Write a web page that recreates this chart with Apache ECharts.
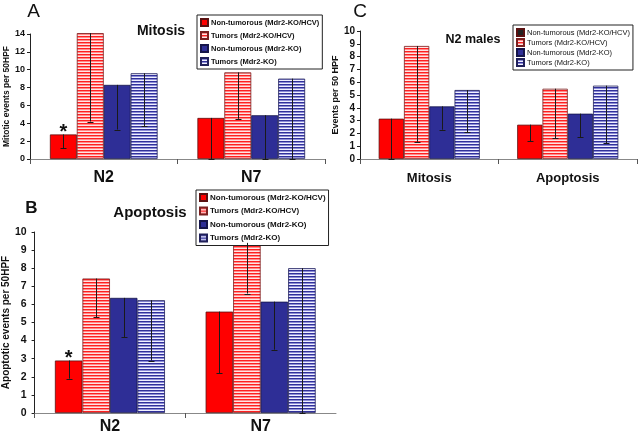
<!DOCTYPE html>
<html>
<head>
<meta charset="utf-8">
<script src="https://cdn.jsdelivr.net/npm/echarts@6/dist/echarts.min.js"></script>
<style>html,body{margin:0;padding:0;background:#fff}#c{width:640px;height:440px}</style>
</head>
<body>
<div id="c"></div>
<script>
// ---------- data ----------
const categoriesAB = ['N2', 'N7'];
const categoriesC = ['Mitosis', 'Apoptosis'];
const groupNames = ['Non-tumorous (Mdr2-KO/HCV)', 'Tumors (Mdr2-KO/HCV)', 'Non-tumorous (Mdr2-KO)', 'Tumors (Mdr2-KO)'];

// Panel A: Mitosis (mean, lower end of error bar)
const mitosisNtHcv = [2.75, 4.6];
const mitosisTHcv = [14.1, 9.7];
const mitosisNtKo = [8.3, 4.9];
const mitosisTKo = [9.6, 9.0];
const mitosisNtHcvLow = [1.2, 0];
const mitosisTHcvLow = [4.2, 4.5];
const mitosisNtKoLow = [3.3, 0];
const mitosisTKoLow = [3.7, 0];

// Panel B: Apoptosis
const apoptosisNtHcv = [2.9, 5.6];
const apoptosisTHcv = [7.43, 9.4];
const apoptosisNtKo = [6.36, 6.15];
const apoptosisTKo = [6.23, 8.0];
const apoptosisNtHcvLow = [1.9, 2.2];
const apoptosisTHcvLow = [5.3, 6.6];
const apoptosisNtKoLow = [4.2, 3.5];
const apoptosisTKoLow = [2.9, 0];

// Panel C: N2 males
const malesNtHcv = [3.15, 2.68];
const malesTHcv = [8.83, 5.49];
const malesNtKo = [4.11, 3.54];
const malesTKo = [5.39, 5.73];
const malesNtHcvLow = [0, 1.38];
const malesTHcvLow = [1.35, 1.64];
const malesNtKoLow = [2.29, 1.69];
const malesTKoLow = [2.1, 1.25];

const significanceA = ['*', ''];
const significanceB = ['*', ''];

const ticksA = { min: 0, max: 14, interval: 2 };
const ticksB = { min: 0, max: 10, interval: 1 };
const ticksC = { min: 0, max: 10, interval: 1 };

// ---------- styling ----------
const FONT = 'Liberation Sans, Arial, sans-serif';
const GAP = 0.27;

function stripes(rows) {
  const c = document.createElement('canvas');
  c.width = 4; c.height = rows.length;
  const ctx = c.getContext('2d');
  rows.forEach((col, i) => { ctx.fillStyle = col; ctx.fillRect(0, i, 4, 1); });
  return { image: c, repeat: 'repeat' };
}
const pinkStripe = stripes(['#ff2020', '#ff8a8a', '#ffe4e4']);
const lavStripe = stripes(['#30309a', '#8c8cd6', '#f0f0ff']);

const styles = [
  { color: '#ff0000', borderColor: '#5a1010', borderWidth: 0.8 },
  { color: pinkStripe, borderColor: '#7a2020', borderWidth: 0.8 },
  { color: '#2e2e96', borderColor: '#15154a', borderWidth: 0.8 },
  { color: lavStripe, borderColor: '#20205a', borderWidth: 0.8 }
];

function barSeries(axis, means, labels) {
  return means.map((vals, k) => ({
    type: 'bar',
    name: groupNames[k],
    xAxisIndex: axis, yAxisIndex: axis,
    barGap: '0%', barCategoryGap: (GAP * 100) + '%',
    clip: false,
    itemStyle: styles[k],
    data: vals.map((v, i) => {
      if (k === 0 && labels && labels[i]) {
        return { value: v, label: { show: true, position: 'top', formatter: labels[i], fontSize: 20, fontWeight: 'bold', color: '#111', fontFamily: FONT, distance: 0, offset: [0, 8] } };
      }
      return v;
    }),
    z: 2
  }));
}

function errRender(params, api) {
  const cat = api.value(0), k = api.value(1), lo = api.value(2), hi = api.value(3);
  const band = api.size([1, 0])[0];
  const bw = band * (1 - GAP) / 4;
  const cx = api.coord([cat, 0])[0] - 2 * bw + (k + 0.5) * bw;
  const yHi = api.coord([cat, hi])[1];
  const yLo = api.coord([cat, lo])[1];
  const x = Math.round(cx) + 0.5;
  const st = { stroke: '#1a1a1a', lineWidth: 1 };
  return {
    type: 'group', children: [
      { type: 'line', shape: { x1: x, y1: yHi, x2: x, y2: yLo }, style: st },
      { type: 'line', shape: { x1: x - 3, y1: Math.round(yLo) + 0.5, x2: x + 3, y2: Math.round(yLo) + 0.5 }, style: st }
    ]
  };
}

function errSeries(axis, means, lows) {
  const data = [];
  means.forEach((vals, k) => vals.forEach((v, i) => data.push([i, k, lows[k][i], v])));
  return { type: 'custom', xAxisIndex: axis, yAxisIndex: axis, renderItem: errRender, encode: { x: 0, y: 3 }, data, z: 5, silent: true };
}

const meansA = [mitosisNtHcv, mitosisTHcv, mitosisNtKo, mitosisTKo];
const lowsA = [mitosisNtHcvLow, mitosisTHcvLow, mitosisNtKoLow, mitosisTKoLow];
const meansB = [apoptosisNtHcv, apoptosisTHcv, apoptosisNtKo, apoptosisTKo];
const lowsB = [apoptosisNtHcvLow, apoptosisTHcvLow, apoptosisNtKoLow, apoptosisTKoLow];
const meansC = [malesNtHcv, malesTHcv, malesNtKo, malesTKo];
const lowsC = [malesNtHcvLow, malesTHcvLow, malesNtKoLow, malesTKoLow];

function xAx(idx, cats, margin, fs) {
  return {
    type: 'category', gridIndex: idx, data: cats,
    axisLine: { lineStyle: { color: '#888', width: 1 } },
    axisTick: { show: true, length: 5, lineStyle: { color: '#555' } },
    axisLabel: { margin, fontSize: fs, fontWeight: 'bold', color: '#111', fontFamily: FONT }
  };
}
function yAx(idx, t, name, nameGap, nameFs, labFs, labMargin) {
  return {
    type: 'value', gridIndex: idx, min: t.min, max: t.max, interval: t.interval,
    name, nameLocation: 'middle', nameGap,
    nameTextStyle: { fontSize: nameFs, fontWeight: 'bold', color: '#111', fontFamily: FONT },
    axisLine: { show: true, lineStyle: { color: '#222', width: 1 } },
    axisTick: { show: true, length: 3, lineStyle: { color: '#222' } },
    axisLabel: { margin: labMargin, fontSize: labFs, fontWeight: 'bold', color: '#111', fontFamily: FONT },
    splitLine: { show: false }
  };
}
function legend(left, top, bold, gap, fs, firstColor) {
  return {
    left, top, orient: 'vertical',
    icon: 'rect',
    itemWidth: 7, itemHeight: 7, itemGap: gap,
    padding: [3, 3, 3, 3],
    borderColor: '#222', borderWidth: 1, backgroundColor: '#fff',
    textStyle: { fontSize: fs, fontWeight: bold ? 'bold' : 'normal', color: '#111', fontFamily: FONT, padding: [0, 0, 0, -2] },
    data: groupNames.map((n, k) => (k === 0 && firstColor) ? { name: n, itemStyle: { color: firstColor } } : n),
    selectedMode: false
  };
}

const chart = echarts.init(document.getElementById('c'), null, { renderer: 'canvas' });
chart.setOption({
  backgroundColor: '#fff',
  animation: false,
  grid: [
    { left: 30, top: 34, width: 295, height: 125 },
    { left: 30, top: 232, width: 306, height: 181 },
    { left: 360, top: 31, width: 277, height: 128 }
  ],
  xAxis: [xAx(0, categoriesAB, 11, 16), xAx(1, categoriesAB, 6, 16), xAx(2, categoriesC, 13, 13)],
  yAxis: [
    yAx(0, ticksA, 'Mitotic events per 50HPF', 17, 8.5, 9, 5),
    yAx(1, ticksB, 'Apoptotic events per 50HPF', 16, 10, 10.5, 8),
    yAx(2, ticksC, 'Events per 50 HPF', 18, 9, 10, 5)
  ],
  legend: [
    legend(197, 15, true, 4, 7.5),
    legend(196, 190, true, 4.5, 8),
    legend(513, 25, false, 1, 7.5, '#222')
  ],
  graphic: [
    { type: 'text', x: 33.5, y: 11.5, style: { text: 'A', font: 'normal 19px ' + FONT, fill: '#111', textAlign: 'center', textVerticalAlign: 'middle' } },
    { type: 'text', x: 31.5, y: 208.5, style: { text: 'B', font: 'bold 17px ' + FONT, fill: '#111', textAlign: 'center', textVerticalAlign: 'middle' } },
    { type: 'text', x: 360, y: 11.5, style: { text: 'C', font: 'normal 19px ' + FONT, fill: '#111', textAlign: 'center', textVerticalAlign: 'middle' } },
    { type: 'text', x: 161, y: 31, style: { text: 'Mitosis', font: 'bold 14px ' + FONT, fill: '#111', textAlign: 'center', textVerticalAlign: 'middle' } },
    { type: 'text', x: 150, y: 213, style: { text: 'Apoptosis', font: 'bold 15px ' + FONT, fill: '#111', textAlign: 'center', textVerticalAlign: 'middle' } },
    { type: 'text', x: 473, y: 40, style: { text: 'N2 males', font: 'bold 12.5px ' + FONT, fill: '#111', textAlign: 'center', textVerticalAlign: 'middle' } }
  ],
  series: [
    ...barSeries(0, meansA, significanceA),
    ...barSeries(1, meansB, significanceB),
    ...barSeries(2, meansC, null),
    errSeries(0, meansA, lowsA),
    errSeries(1, meansB, lowsB),
    errSeries(2, meansC, lowsC)
  ]
});
</script>
</body>
</html>
